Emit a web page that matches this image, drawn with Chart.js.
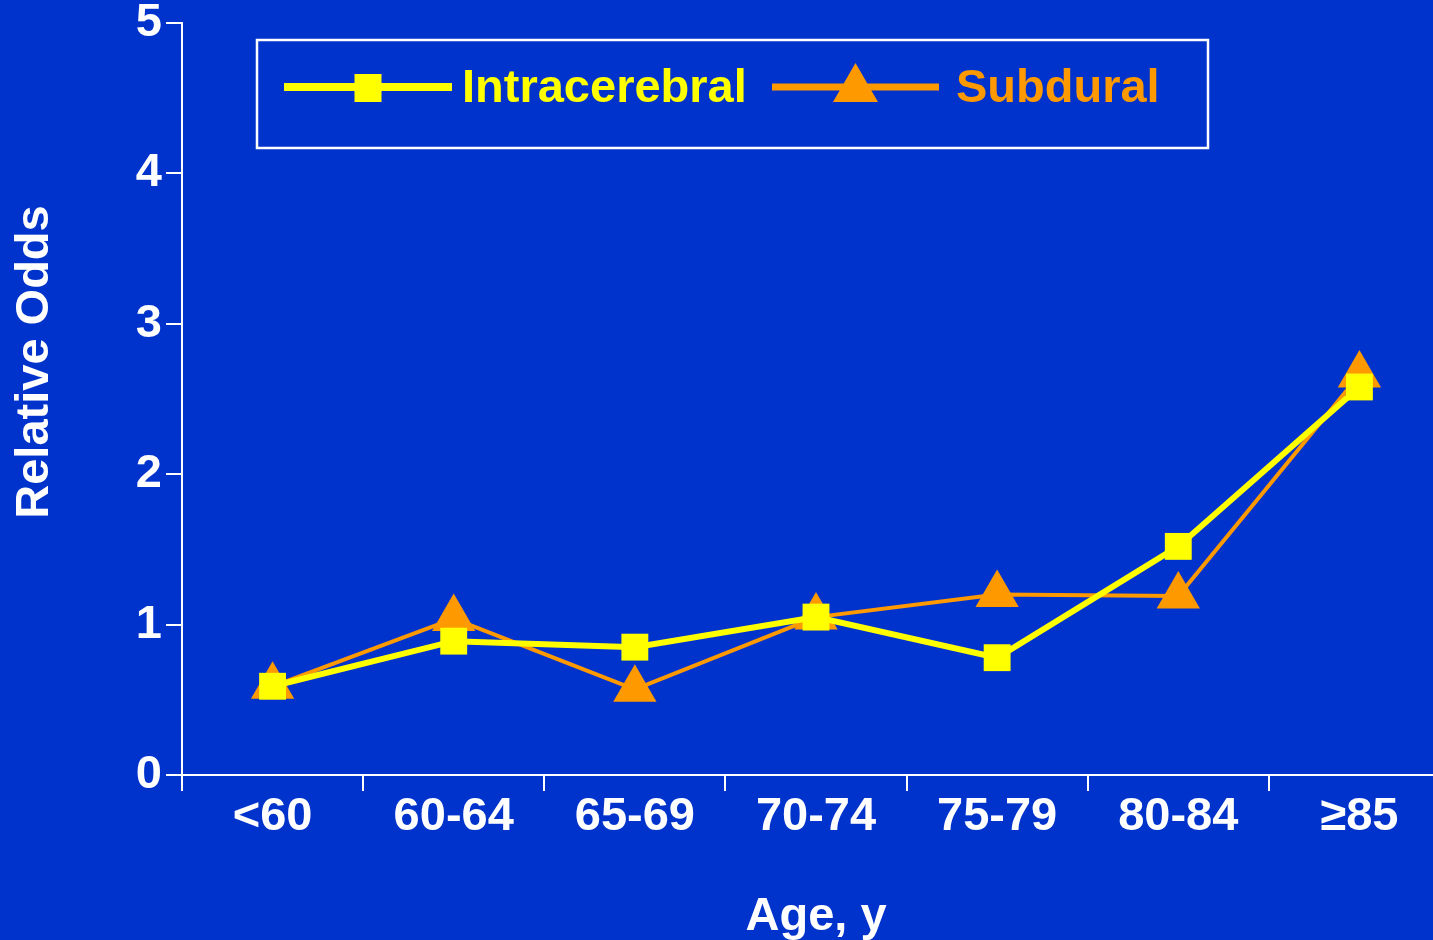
<!DOCTYPE html>
<html><head><meta charset="utf-8">
<script src="https://cdn.jsdelivr.net/npm/chart.js@4.4.0/dist/chart.umd.min.js"></script>
<style>
html,body{margin:0;padding:0;background:#0033CC;overflow:hidden;width:1433px;height:940px;}
#wrap{position:absolute;left:0;top:0;width:1450px;height:960px;}
canvas{display:block;}
</style></head><body>
<div id="wrap"><canvas id="c" width="1450" height="960"></canvas></div>
<script>
const categories = ['<60', '60-64', '65-69', '70-74', '75-79', '80-84', '\u226585'];
const intracerebral = [0.59, 0.89, 0.85, 1.05, 0.78, 1.52, 2.58];
const subdural = [0.59, 1.04, 0.57, 1.05, 1.20, 1.19, 2.66];
const yTicks = [0, 1, 2, 3, 4, 5];
const seriesNames = ['Intracerebral', 'Subdural'];
const xTitle = 'Age, y';
const yTitle = 'Relative Odds';

const FONT = '"Liberation Sans", Arial, Helvetica, sans-serif';
const BG = '#0033CC';
const YELLOW = '#FFFF00';
const ORANGE = '#FF9900';

const bgPlugin = {
  id: 'bg',
  beforeDraw(chart) {
    const ctx = chart.ctx;
    ctx.save();
    ctx.fillStyle = BG;
    ctx.fillRect(0, 0, chart.width, chart.height);
    ctx.restore();
  }
};

const yTitlePlugin = {
  id: 'yTitle',
  afterDraw(chart) {
    const ctx = chart.ctx;
    ctx.save();
    ctx.translate(35, 362);
    ctx.rotate(-Math.PI / 2);
    ctx.fillStyle = '#FFFFFF';
    ctx.font = 'bold 47px ' + FONT;
    ctx.textAlign = 'center';
    ctx.textBaseline = 'middle';
    ctx.fillText(yTitle, 0, 0);
    ctx.restore();
  }
};

const boxLegend = {
  id: 'boxLegend',
  afterDraw(chart) {
    const ctx = chart.ctx;
    ctx.save();
    ctx.strokeStyle = '#FFFFFF';
    ctx.lineWidth = 2.5;
    ctx.strokeRect(257, 40, 951, 108);
    const lineX0 = [284, 772], lineX1 = [452, 939], textX = [462, 956];
    const lineW = [8, 7];
    chart.data.datasets.forEach((ds, i) => {
      const col = ds.borderColor;
      ctx.strokeStyle = col;
      ctx.fillStyle = col;
      ctx.lineWidth = lineW[i];
      ctx.beginPath();
      ctx.moveTo(lineX0[i], 87);
      ctx.lineTo(lineX1[i], 87);
      ctx.stroke();
      const cx = (lineX0[i] + lineX1[i]) / 2;
      ctx.beginPath();
      if (ds.pointStyle === 'rect') {
        ctx.rect(cx - 13.5, 74, 27, 28);
      } else {
        ctx.moveTo(cx, 63);
        ctx.lineTo(cx + 22.5, 102);
        ctx.lineTo(cx - 22.5, 102);
        ctx.closePath();
      }
      ctx.fill();
      ctx.font = 'bold 47px ' + FONT;
      ctx.textBaseline = 'alphabetic';
      ctx.textAlign = 'left';
      ctx.fillText(ds.label, textX[i], 102);
    });
    ctx.restore();
  }
};

const tickFont = { family: FONT, size: 47, weight: 'bold', lineHeight: 1 };

new Chart(document.getElementById('c'), {
  type: 'line',
  data: {
    labels: categories,
    datasets: [
      {
        label: seriesNames[0],
        data: intracerebral,
        borderColor: YELLOW,
        backgroundColor: YELLOW,
        pointBackgroundColor: YELLOW,
        borderWidth: 6,
        pointStyle: 'rect',
        pointRadius: 19,
        pointBorderWidth: 0,
        tension: 0,
        clip: false,
        order: 0
      },
      {
        label: seriesNames[1],
        data: subdural,
        borderColor: ORANGE,
        backgroundColor: ORANGE,
        pointBackgroundColor: ORANGE,
        borderWidth: 4,
        pointStyle: 'triangle',
        pointRadius: 25,
        pointBorderWidth: 0,
        tension: 0,
        clip: false,
        order: 1
      }
    ]
  },
  options: {
    responsive: false,
    animation: false,
    devicePixelRatio: 1,
    layout: { padding: 0, autoPadding: false },
    plugins: { legend: { display: false }, tooltip: { enabled: false } },
    scales: {
      x: {
        type: 'category',
        offset: true,
        grid: { display: true, drawOnChartArea: false, drawTicks: true, tickLength: 16, color: '#FFFFFF', lineWidth: 2, offset: true },
        border: { display: true, color: '#FFFFFF', width: 2 },
        ticks: { color: '#FFFFFF', font: tickFont, padding: 3, maxRotation: 0, autoSkip: false },
        title: { display: true, text: xTitle, color: '#FFFFFF', font: { family: FONT, size: 47, weight: 'bold' }, padding: { top: 0, bottom: 15 } },
        afterFit(s) { s.height = 185; s.paddingLeft = 0; s.paddingRight = 0; }
      },
      y: {
        min: 0,
        max: 5,
        afterBuildTicks(s) { s.ticks = yTicks.map(v => ({ value: v })); },
        grid: { display: true, drawOnChartArea: false, drawTicks: true, tickLength: 16, color: '#FFFFFF', lineWidth: 2 },
        border: { display: true, color: '#FFFFFF', width: 2 },
        ticks: { color: '#FFFFFF', font: tickFont, padding: 4 },
        title: { display: false, text: yTitle },
        afterFit(s) { s.width = 182; s.paddingTop = 23; s.paddingBottom = 0; }
      }
    }
  },
  plugins: [bgPlugin, boxLegend, yTitlePlugin]
});
</script>
</body></html>
